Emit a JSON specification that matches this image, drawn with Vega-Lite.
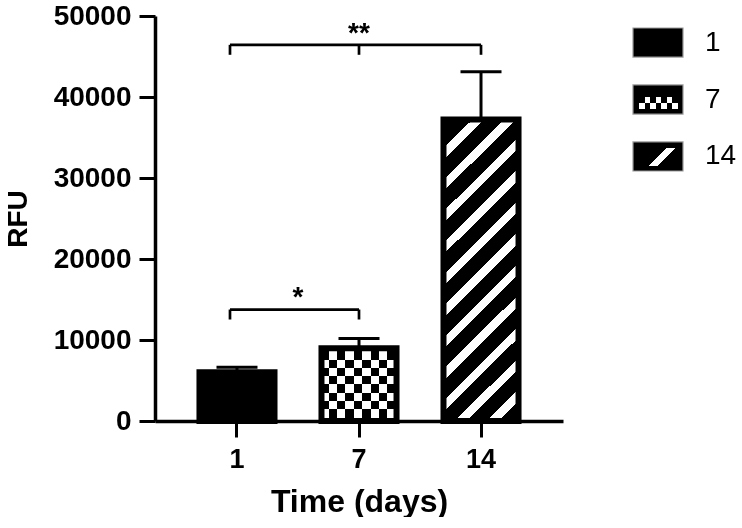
{
  "$schema": "https://vega.github.io/schema/vega-lite/v6.json",
  "background": "white",
  "padding": {"left": 4, "top": 2, "right": 0, "bottom": 0},
  "spacing": 69,
  "config": {
    "font": "Liberation Sans",
    "view": {"stroke": null},
    "axis": {"grid": false, "domainColor": "black", "tickColor": "black", "labelColor": "black", "titleColor": "black", "labelFontWeight": "bold", "titleFontWeight": "bold", "domainWidth": 3.5, "tickWidth": 3, "tickSize": 16},
    "axisX": {"labelFontSize": 27, "labelAngle": 0, "labelPadding": 9, "titleFontSize": 32, "titlePadding": 14},
    "axisY": {"labelFontSize": 28, "labelPadding": 8, "titleFontSize": 28, "titlePadding": 21}
  },
  "datasets": {
    "bars": [
      {"day": 1, "rfu": 6020, "upper": 6630},
      {"day": 7, "rfu": 8970, "upper": 10200},
      {"day": 14, "rfu": 37220, "upper": 43120}
    ],
    "sig": [
      {"from": 1, "to": 7, "mid": null, "y": 13760, "yLow": 12530, "label": "*"},
      {"from": 1, "to": 14, "mid": 7, "y": 46440, "yLow": 45210, "label": "**"}
    ]
  },
  "hconcat": [
    {
      "width": 408,
      "height": 405,
      "layer": [
        {
          "data": {"name": "bars"},
          "mark": {"type": "bar", "fill": "black", "strokeWidth": 0},
          "encoding": {
            "x": {"field": "day", "type": "ordinal", "title": "Time (days)", "scale": {"domain": [1, 7, 14], "paddingInner": 0.385, "paddingOuter": 0.3645}},
            "y": {"field": "rfu", "type": "quantitative", "title": "RFU", "scale": {"domain": [0, 50000]}, "axis": {"values": [0, 10000, 20000, 30000, 40000, 50000], "format": "d"}}
          }
        },
        {
          "data": {"name": "bars"},
          "transform": [{"filter": "datum.day == 7"}],
          "mark": {"type": "bar", "strokeWidth": 0, "fill": {"gradient": "linear", "x1": 0, "y1": 0, "x2": 1, "y2": 0, "stops": [
            {"offset": 0, "color": "#000000"}, {"offset": 0.0973, "color": "#000000"},
            {"offset": 0.0973, "color": "#ffffff"}, {"offset": 0.208, "color": "#ffffff"},
            {"offset": 0.208, "color": "#000000"}, {"offset": 0.32, "color": "#000000"},
            {"offset": 0.32, "color": "#ffffff"}, {"offset": 0.4307, "color": "#ffffff"},
            {"offset": 0.4307, "color": "#000000"}, {"offset": 0.5413, "color": "#000000"},
            {"offset": 0.5413, "color": "#ffffff"}, {"offset": 0.6533, "color": "#ffffff"},
            {"offset": 0.6533, "color": "#000000"}, {"offset": 0.764, "color": "#000000"},
            {"offset": 0.764, "color": "#ffffff"}, {"offset": 0.8747, "color": "#ffffff"},
            {"offset": 0.8747, "color": "#000000"}, {"offset": 0.9867, "color": "#000000"},
            {"offset": 0.9867, "color": "#ffffff"}, {"offset": 1, "color": "#ffffff"}
          ]}},
          "encoding": {
            "x": {"field": "day", "type": "ordinal", "title": "Time (days)"},
            "y": {"field": "rfu", "type": "quantitative", "title": "RFU"}
          }
        },
        {
          "data": {"name": "bars"},
          "transform": [{"filter": "datum.day == 7"}],
          "mark": {"type": "bar", "strokeWidth": 0, "blend": "difference", "fill": {"gradient": "linear", "x1": 0, "y1": 0, "x2": 0, "y2": 1, "stops": [
            {"offset": 0, "color": "#ffffff"}, {"offset": 0.0411, "color": "#ffffff"},
            {"offset": 0.0411, "color": "#000000"}, {"offset": 0.1548, "color": "#000000"},
            {"offset": 0.1548, "color": "#ffffff"}, {"offset": 0.2699, "color": "#ffffff"},
            {"offset": 0.2699, "color": "#000000"}, {"offset": 0.3836, "color": "#000000"},
            {"offset": 0.3836, "color": "#ffffff"}, {"offset": 0.4973, "color": "#ffffff"},
            {"offset": 0.4973, "color": "#000000"}, {"offset": 0.6123, "color": "#000000"},
            {"offset": 0.6123, "color": "#ffffff"}, {"offset": 0.726, "color": "#ffffff"},
            {"offset": 0.726, "color": "#000000"}, {"offset": 0.8397, "color": "#000000"},
            {"offset": 0.8397, "color": "#ffffff"}, {"offset": 0.9548, "color": "#ffffff"},
            {"offset": 0.9548, "color": "#000000"}, {"offset": 1, "color": "#000000"}
          ]}},
          "encoding": {
            "x": {"field": "day", "type": "ordinal", "title": "Time (days)"},
            "y": {"field": "rfu", "type": "quantitative", "title": "RFU"}
          }
        },
        {
          "data": {"name": "bars"},
          "transform": [{"filter": "datum.day == 14"}],
          "mark": {"type": "bar", "strokeWidth": 0, "fill": {"gradient": "linear", "x1": 0, "y1": 0, "x2": 0.29097, "y2": 1.17552, "stops": [
            {"offset": 0, "color": "#000000"}, {"offset": 0.0767, "color": "#000000"},
            {"offset": 0.0767, "color": "#ffffff"}, {"offset": 0.1071, "color": "#ffffff"},
            {"offset": 0.1071, "color": "#000000"}, {"offset": 0.1606, "color": "#000000"},
            {"offset": 0.1606, "color": "#ffffff"}, {"offset": 0.191, "color": "#ffffff"},
            {"offset": 0.191, "color": "#000000"}, {"offset": 0.2444, "color": "#000000"},
            {"offset": 0.2444, "color": "#ffffff"}, {"offset": 0.2749, "color": "#ffffff"},
            {"offset": 0.2749, "color": "#000000"}, {"offset": 0.3283, "color": "#000000"},
            {"offset": 0.3283, "color": "#ffffff"}, {"offset": 0.3587, "color": "#ffffff"},
            {"offset": 0.3587, "color": "#000000"}, {"offset": 0.4122, "color": "#000000"},
            {"offset": 0.4122, "color": "#ffffff"}, {"offset": 0.4426, "color": "#ffffff"},
            {"offset": 0.4426, "color": "#000000"}, {"offset": 0.496, "color": "#000000"},
            {"offset": 0.496, "color": "#ffffff"}, {"offset": 0.5265, "color": "#ffffff"},
            {"offset": 0.5265, "color": "#000000"}, {"offset": 0.5799, "color": "#000000"},
            {"offset": 0.5799, "color": "#ffffff"}, {"offset": 0.6103, "color": "#ffffff"},
            {"offset": 0.6103, "color": "#000000"}, {"offset": 0.6638, "color": "#000000"},
            {"offset": 0.6638, "color": "#ffffff"}, {"offset": 0.6942, "color": "#ffffff"},
            {"offset": 0.6942, "color": "#000000"}, {"offset": 0.7476, "color": "#000000"},
            {"offset": 0.7476, "color": "#ffffff"}, {"offset": 0.778, "color": "#ffffff"},
            {"offset": 0.778, "color": "#000000"}, {"offset": 0.8315, "color": "#000000"},
            {"offset": 0.8315, "color": "#ffffff"}, {"offset": 0.8619, "color": "#ffffff"},
            {"offset": 0.8619, "color": "#000000"}, {"offset": 0.9153, "color": "#000000"},
            {"offset": 0.9153, "color": "#ffffff"}, {"offset": 0.9458, "color": "#ffffff"},
            {"offset": 0.9458, "color": "#000000"}, {"offset": 1, "color": "#000000"}
          ]}},
          "encoding": {
            "x": {"field": "day", "type": "ordinal", "title": "Time (days)"},
            "y": {"field": "rfu", "type": "quantitative", "title": "RFU"}
          }
        },
        {
          "data": {"name": "bars"},
          "mark": {"type": "bar", "fillOpacity": 0, "stroke": "black", "strokeWidth": 6},
          "encoding": {
            "x": {"field": "day", "type": "ordinal", "title": "Time (days)"},
            "y": {"field": "rfu", "type": "quantitative", "title": "RFU"}
          }
        },
        {
          "data": {"name": "bars"},
          "mark": {"type": "rule", "strokeWidth": 3, "color": "black"},
          "encoding": {
            "x": {"field": "day", "type": "ordinal", "title": "Time (days)"},
            "y": {"field": "rfu", "type": "quantitative", "title": "RFU"},
            "y2": {"field": "upper"}
          }
        },
        {
          "data": {"name": "bars"},
          "mark": {"type": "tick", "thickness": 3, "size": 41, "color": "black", "opacity": 1},
          "encoding": {
            "x": {"field": "day", "type": "ordinal", "title": "Time (days)"},
            "y": {"field": "upper", "type": "quantitative", "title": "RFU"}
          }
        },
        {
          "data": {"name": "sig"},
          "mark": {"type": "rule", "strokeWidth": 2.7, "color": "black", "xOffset": -7},
          "encoding": {
            "x": {"field": "from", "type": "ordinal", "title": "Time (days)"},
            "x2": {"field": "to"},
            "y": {"field": "y", "type": "quantitative", "title": "RFU"}
          }
        },
        {
          "data": {"name": "sig"},
          "mark": {"type": "rule", "strokeWidth": 2.7, "color": "black", "xOffset": -7},
          "encoding": {
            "x": {"field": "from", "type": "ordinal", "title": "Time (days)"},
            "y": {"field": "yLow", "type": "quantitative", "title": "RFU"},
            "y2": {"field": "y"}
          }
        },
        {
          "data": {"name": "sig"},
          "mark": {"type": "rule", "strokeWidth": 2.7, "color": "black"},
          "encoding": {
            "x": {"field": "to", "type": "ordinal", "title": "Time (days)"},
            "y": {"field": "yLow", "type": "quantitative", "title": "RFU"},
            "y2": {"field": "y"}
          }
        },
        {
          "data": {"name": "sig"},
          "transform": [{"filter": "isValid(datum.mid)"}],
          "mark": {"type": "rule", "strokeWidth": 2.7, "color": "black"},
          "encoding": {
            "x": {"field": "mid", "type": "ordinal", "title": "Time (days)"},
            "y": {"field": "yLow", "type": "quantitative", "title": "RFU"},
            "y2": {"field": "y"}
          }
        },
        {
          "data": {"name": "sig"},
          "transform": [{"filter": "!isValid(datum.mid)"}],
          "mark": {"type": "text", "fontSize": 28, "fontWeight": "bold", "baseline": "alphabetic", "align": "center", "dy": -4, "xOffset": 61, "color": "black"},
          "encoding": {
            "x": {"field": "from", "type": "ordinal", "title": "Time (days)"},
            "y": {"field": "y", "type": "quantitative", "title": "RFU"},
            "text": {"field": "label"}
          }
        },
        {
          "data": {"name": "sig"},
          "transform": [{"filter": "isValid(datum.mid)"}],
          "mark": {"type": "text", "fontSize": 28, "fontWeight": "bold", "baseline": "alphabetic", "align": "center", "dy": -3, "color": "black"},
          "encoding": {
            "x": {"field": "mid", "type": "ordinal", "title": "Time (days)"},
            "y": {"field": "y", "type": "quantitative", "title": "RFU"},
            "text": {"field": "label"}
          }
        }
      ]
    },
    {
      "width": 110,
      "height": 167,
      "data": {"name": "bars"},
      "encoding": {
        "y": {"field": "day", "type": "ordinal", "scale": {"domain": [1, 7, 14], "paddingInner": 0.49, "paddingOuter": 0.2105}, "axis": null}
      },
      "layer": [
        {
          "mark": {"type": "bar", "fill": "black", "strokeWidth": 0},
          "encoding": {
            "x": {"datum": 0, "type": "quantitative", "scale": {"domain": [0, 110], "nice": false}, "axis": null},
            "x2": {"datum": 50}
          }
        },
        {
          "transform": [{"filter": "datum.day == 7"}],
          "mark": {"type": "bar", "strokeWidth": 0, "fill": {"gradient": "linear", "x1": 0, "y1": 0, "x2": 1, "y2": 0, "stops": [
            {"offset": 0, "color": "#000000"}, {"offset": 0.12, "color": "#000000"},
            {"offset": 0.12, "color": "#ffffff"}, {"offset": 0.23, "color": "#ffffff"},
            {"offset": 0.23, "color": "#000000"}, {"offset": 0.34, "color": "#000000"},
            {"offset": 0.34, "color": "#ffffff"}, {"offset": 0.45, "color": "#ffffff"},
            {"offset": 0.45, "color": "#000000"}, {"offset": 0.56, "color": "#000000"},
            {"offset": 0.56, "color": "#ffffff"}, {"offset": 0.67, "color": "#ffffff"},
            {"offset": 0.67, "color": "#000000"}, {"offset": 0.78, "color": "#000000"},
            {"offset": 0.78, "color": "#ffffff"}, {"offset": 0.89, "color": "#ffffff"},
            {"offset": 0.89, "color": "#000000"}, {"offset": 1, "color": "#000000"}
          ]}},
          "encoding": {"x": {"datum": 0, "type": "quantitative"}, "x2": {"datum": 50}}
        },
        {
          "transform": [{"filter": "datum.day == 7"}],
          "mark": {"type": "bar", "strokeWidth": 0, "blend": "difference", "fill": {"gradient": "linear", "x1": 0, "y1": 0, "x2": 0, "y2": 1, "stops": [
            {"offset": 0, "color": "#000000"}, {"offset": 0.414, "color": "#000000"},
            {"offset": 0.414, "color": "#ffffff"}, {"offset": 0.621, "color": "#ffffff"},
            {"offset": 0.621, "color": "#000000"}, {"offset": 1, "color": "#000000"}
          ]}},
          "encoding": {"x": {"datum": 0, "type": "quantitative"}, "x2": {"datum": 50}}
        },
        {
          "transform": [{"filter": "datum.day == 7"}],
          "mark": {"type": "bar", "strokeWidth": 0, "fill": {"gradient": "linear", "x1": 0, "y1": 0, "x2": 0, "y2": 1, "stops": [
            {"offset": 0, "color": "#000000"}, {"offset": 0.414, "color": "#000000"},
            {"offset": 0.414, "color": "rgba(0,0,0,0)"}, {"offset": 0.828, "color": "rgba(0,0,0,0)"},
            {"offset": 0.828, "color": "#000000"}, {"offset": 1, "color": "#000000"}
          ]}},
          "encoding": {"x": {"datum": 0, "type": "quantitative"}, "x2": {"datum": 50}}
        },
        {
          "transform": [{"filter": "datum.day == 7"}],
          "mark": {"type": "bar", "strokeWidth": 0, "fill": {"gradient": "linear", "x1": 0, "y1": 0, "x2": 1, "y2": 0, "stops": [
            {"offset": 0, "color": "#000000"}, {"offset": 0.12, "color": "#000000"},
            {"offset": 0.12, "color": "rgba(0,0,0,0)"}, {"offset": 0.9, "color": "rgba(0,0,0,0)"},
            {"offset": 0.9, "color": "#000000"}, {"offset": 1, "color": "#000000"}
          ]}},
          "encoding": {"x": {"datum": 0, "type": "quantitative"}, "x2": {"datum": 50}}
        },
        {
          "transform": [{"filter": "datum.day == 14"}],
          "mark": {"type": "bar", "strokeWidth": 0, "fill": {"gradient": "linear", "x1": 0, "y1": 0, "x2": 1.1823, "y2": 0.6857, "stops": [
            {"offset": 0, "color": "#000000"}, {"offset": 0.506, "color": "#000000"},
            {"offset": 0.506, "color": "#ffffff"}, {"offset": 0.614, "color": "#ffffff"},
            {"offset": 0.614, "color": "#000000"}, {"offset": 1, "color": "#000000"}
          ]}},
          "encoding": {"x": {"datum": 0, "type": "quantitative"}, "x2": {"datum": 50}}
        },
        {
          "transform": [{"filter": "datum.day == 14"}],
          "mark": {"type": "bar", "strokeWidth": 0, "fill": {"gradient": "linear", "x1": 0, "y1": 0, "x2": 0, "y2": 1, "stops": [
            {"offset": 0, "color": "#000000"}, {"offset": 0.207, "color": "#000000"},
            {"offset": 0.207, "color": "rgba(0,0,0,0)"}, {"offset": 0.828, "color": "rgba(0,0,0,0)"},
            {"offset": 0.828, "color": "#000000"}, {"offset": 1, "color": "#000000"}
          ]}},
          "encoding": {"x": {"datum": 0, "type": "quantitative"}, "x2": {"datum": 50}}
        },
        {
          "mark": {"type": "bar", "fillOpacity": 0, "stroke": "#9a9a9a", "strokeWidth": 1.2},
          "encoding": {"x": {"datum": 0, "type": "quantitative"}, "x2": {"datum": 50}}
        },
        {
          "mark": {"type": "text", "align": "left", "baseline": "middle", "fontSize": 28, "color": "black"},
          "encoding": {"x": {"datum": 72, "type": "quantitative"}, "text": {"field": "day", "type": "nominal"}}
        }
      ]
    }
  ]
}
